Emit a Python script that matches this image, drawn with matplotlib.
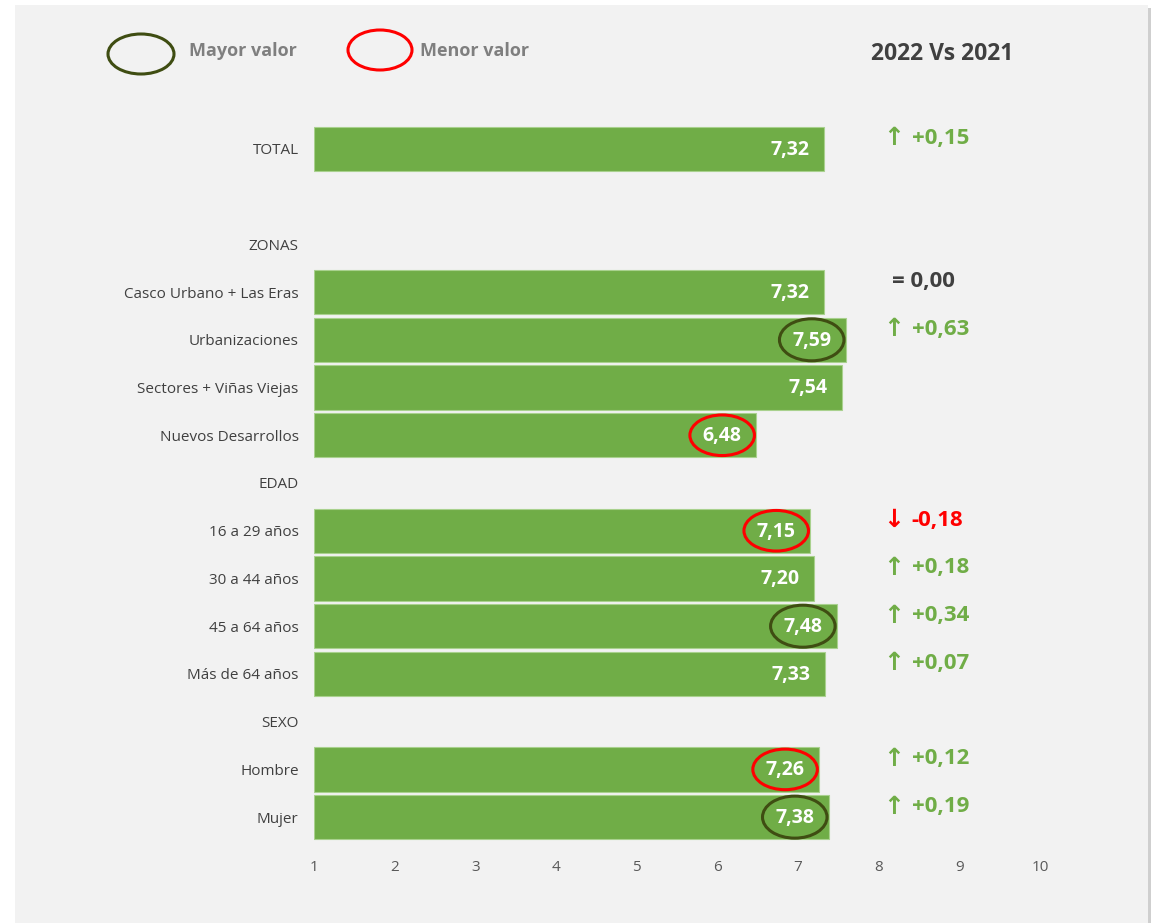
import numpy as np
import matplotlib.pyplot as plt
from matplotlib.patches import Ellipse, Rectangle

# datos
etiquetas = ['TOTAL', '', 'ZONAS', 'Casco Urbano + Las Eras', 'Urbanizaciones',
             'Sectores + Viñas Viejas', 'Nuevos Desarrollos', 'EDAD', '16 a 29 años',
             '30 a 44 años', '45 a 64 años', 'Más de 64 años', 'SEXO', 'Hombre', 'Mujer']
valores = [7.32, None, None, 7.32, 7.59, 7.54, 6.48, None, 7.15,
           7.20, 7.48, 7.33, None, 7.26, 7.38]
# variacion 2022 vs 2021 (None = sin dato)
variacion = [0.15, None, None, 0.00, 0.63, None, None, None, -0.18,
             0.18, 0.34, 0.07, None, 0.12, 0.19]
mayor = ['Urbanizaciones', '45 a 64 años', 'Mujer']
menor = ['Nuevos Desarrollos', '16 a 29 años', 'Hombre']

verde = '#70ad47'
oliva = '#3f4d12'
rojo = '#ff0000'
gris_txt = '#404040'
fuente = ['Open Sans', 'DejaVu Sans']

plt.rcParams['font.family'] = fuente

fig = plt.figure(figsize=(11.57, 9.23), dpi=100)
fig.patch.set_facecolor('white')
# panel gris de fondo con sombra
fig.patches.append(Rectangle((18/1157, 0), 1133/1157, 1 - 8/923, transform=fig.transFigure,
                             facecolor='#cfcfcf', edgecolor='none', zorder=-2))
fig.patches.append(Rectangle((15/1157, 0), 1133/1157, 1 - 5/923, transform=fig.transFigure,
                             facecolor='#f2f2f2', edgecolor='none', zorder=-1))

ax = fig.add_axes([314/1157, 1 - 841/923, 726/1157, 716/923])
ax.set_facecolor('none')

y = np.arange(len(etiquetas))
for i, v in enumerate(valores):
    if v is None:
        continue
    ax.barh(i, v - 1, left=1, height=0.93, color=verde, edgecolor='#a9d18e', linewidth=0.8)
    xc = v - 0.42
    ax.text(xc, i + 0.02, f'{v:.2f}'.replace('.', ','), ha='center', va='center',
            color='white', fontsize=14, fontweight='bold')
    if etiquetas[i] in mayor:
        ax.add_patch(Ellipse((xc, i), 0.8, 0.88, fill=False, edgecolor=oliva, linewidth=2.2))
    if etiquetas[i] in menor:
        ax.add_patch(Ellipse((xc, i), 0.8, 0.85, fill=False, edgecolor=rojo, linewidth=2.2))

for i, d in enumerate(variacion):
    if d is None:
        continue
    yy = i - 0.22
    if d == 0:
        ax.text(8.17, yy, f'= {d:.2f}'.replace('.', ','), ha='left', va='center',
                color=gris_txt, fontsize=16, fontweight='bold', clip_on=False)
        continue
    col = verde if d > 0 else rojo
    flecha = '↑' if d > 0 else '↓'
    ax.text(8.19, yy, flecha, ha='center', va='center', color=col,
            fontsize=18, family='DejaVu Sans', fontweight='bold', clip_on=False)
    ax.text(8.41, yy, f'{d:+.2f}'.replace('.', ','), ha='left', va='center', color=col,
            fontsize=16, fontweight='bold', clip_on=False)

ax.set_xlim(1, 10)
ax.set_ylim(len(etiquetas) - 0.5, -0.5)
ax.set_xticks(range(1, 11))
ax.set_yticks(y)
ax.set_yticklabels(etiquetas)
ax.tick_params(axis='y', length=0, pad=11, labelsize=11, labelcolor=gris_txt)
ax.tick_params(axis='x', length=0, pad=14, labelsize=11, labelcolor='#595959')
for s in ax.spines.values():
    s.set_visible(False)

# leyenda superior
fig.patches.append(Ellipse((141/1157, 1 - 54/923), 66/1157, 40/923, transform=fig.transFigure,
                           fill=False, edgecolor=oliva, linewidth=2.2))
fig.text(189/1157, 1 - 51/923, 'Mayor valor', ha='left', va='center', color='#7f7f7f',
         fontsize=13, fontweight='bold')
fig.patches.append(Ellipse((380/1157, 1 - 50/923), 64/1157, 40/923, transform=fig.transFigure,
                           fill=False, edgecolor=rojo, linewidth=2.2))
fig.text(420/1157, 1 - 51/923, 'Menor valor', ha='left', va='center', color='#7f7f7f',
         fontsize=13, fontweight='bold')
fig.text(942/1157, 1 - 54/923, '2022 Vs 2021', ha='center', va='center', color=gris_txt,
         fontsize=16.5, fontweight='bold')

fig.savefig('out.png', dpi=100, facecolor=fig.get_facecolor())
